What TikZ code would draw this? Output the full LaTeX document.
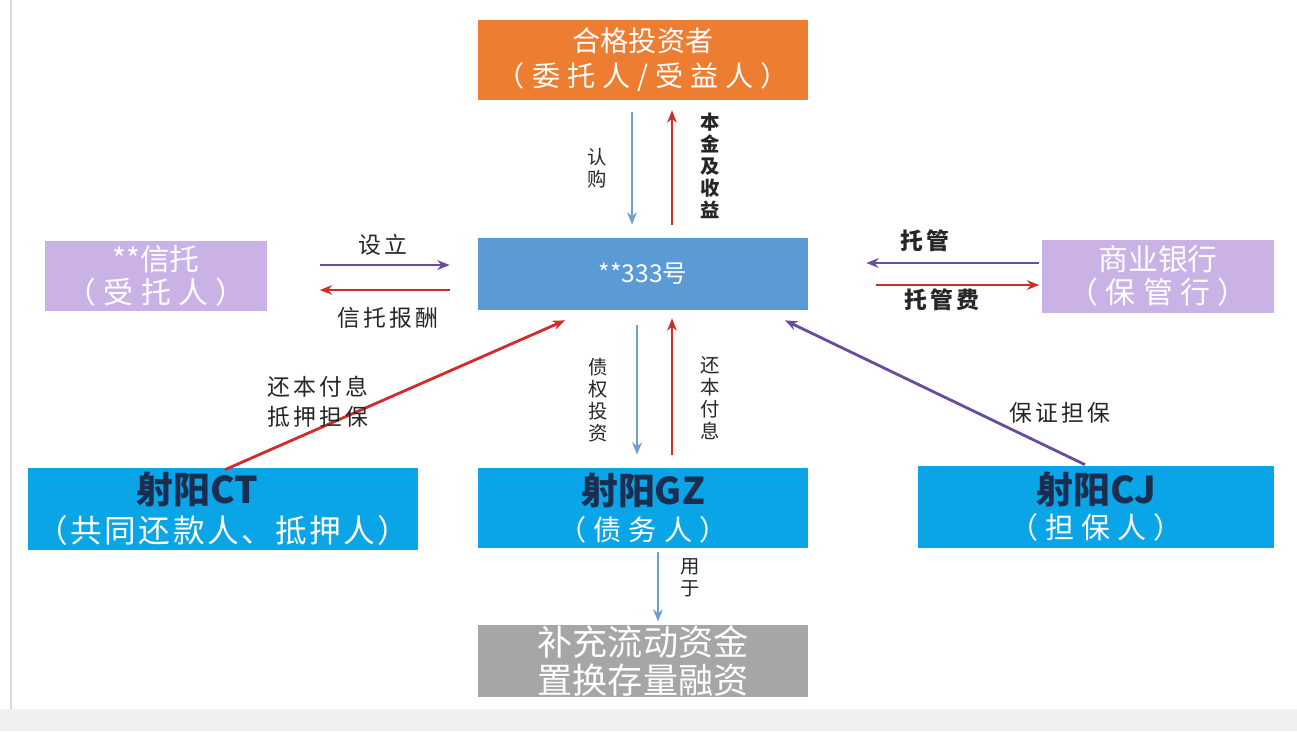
\documentclass[tikz,border=0pt]{standalone}
\usepackage{fontspec}
\setmainfont{Noto Sans CJK SC}
\newfontfamily\lblfont[LetterSpace=14]{Noto Sans CJK SC}
\newfontfamily\spacedfont[LetterSpace=25]{Noto Sans CJK SC}
\newfontfamily\widefont[LetterSpace=8]{Noto Sans CJK SC}
\usetikzlibrary{arrows.meta,calc}
\definecolor{invorange}{HTML}{ED7D31}
\definecolor{lavender}{HTML}{CAB2E6}
\definecolor{fundblue}{HTML}{5B9BD5}
\definecolor{partyblue}{HTML}{0AA5E6}
\definecolor{usegray}{HTML}{A6A6A6}
\definecolor{namenavy}{HTML}{1B2E4F}
\definecolor{arrblue}{HTML}{6E9FD0}
\definecolor{arrred}{HTML}{D22B2B}
\definecolor{arrpurple}{HTML}{6A4C9C}
\definecolor{bandgray}{HTML}{F0F0F0}
\newcommand\partyname[1]{{\fontsize{21}{22}\selectfont\bfseries\color{namenavy}#1}}
\tikzset{
  box/.style={rectangle, inner sep=0pt, text=white, align=center},
  vlbl/.style={align=center, text=black!85, font=\fontsize{11}{12.6}\selectfont},
  hlbl/.style={align=left, text=black!85, font=\lblfont\fontsize{13}{17}\selectfont},
  arr/.style={line width=1.6pt, -{Stealth[length=7pt,width=5.5pt]}},
  bluearr/.style={arr, arrblue, line width=1.3pt},
  redarr/.style={arr, arrred},
  purplearr/.style={arr, arrpurple}
}
\begin{document}
\begin{tikzpicture}[x=0.02cm, y=-0.02cm]
  \useasboundingbox (0,0) rectangle (1297,731);
  \fill[white] (0,0) rectangle (1297,731);
  \fill[bandgray] (0,709) rectangle (1297,731);
  \draw[black!15, line width=0.6pt] (11,0) -- (11,709);

  \node[box, fill=invorange, minimum width=6.6cm, minimum height=1.6cm,
    font=\fontsize{16}{20}\selectfont] (inv) at (643,60) {合格投资者\\{\spacedfont （委托人/受益人）}};
  \node[box, fill=fundblue, minimum width=6.6cm, minimum height=1.44cm,
    font=\fontsize{14}{16}\selectfont] (fund) at (643,274) {**333号};
  \node[box, fill=lavender, minimum width=4.46cm, minimum height=1.4cm,
    font=\fontsize{17}{19}\selectfont] (trust) at (156,276) {**信托\\{\spacedfont （受托人）}};
  \node[box, fill=lavender, minimum width=4.66cm, minimum height=1.46cm,
    font=\fontsize{17}{19}\selectfont] (bank) at (1158,276) {商业银行\\{\spacedfont （保管行）}};
  \node[box, fill=partyblue, minimum width=7.8cm, minimum height=1.64cm,
    font=\fontsize{18}{22}\selectfont] (ct) at (223,509) {\partyname{射阳CT}\hspace*{29pt}\\{\widefont （共同还款人、抵押人）}};
  \node[box, fill=partyblue, minimum width=6.6cm, minimum height=1.6cm,
    font=\fontsize{16}{20}\selectfont] (gz) at (643,508) {\partyname{射阳GZ}\\{\spacedfont （债务人）}};
  \node[box, fill=partyblue, minimum width=7.14cm, minimum height=1.64cm,
    font=\fontsize{16.5}{20}\selectfont] (cj) at (1096,507) {\partyname{射阳CJ}\\{\spacedfont （担保人）}};
  \node[box, fill=usegray, minimum width=6.6cm, minimum height=1.44cm,
    font=\fontsize{20}{22}\selectfont] (use) at (643,661) {补充流动资金\\置换存量融资};

  \draw[bluearr] ($(inv.south)+(-11,12)$) -- ($(fund.north)+(-11,-13)$);
  \draw[redarr] ($(fund.north)+(29,-13)$) -- ($(inv.south)+(29,10)$);
  \draw[purplearr] ($(trust.east)+(52,-11)$) -- ($(fund.west)+(-28,-9)$);
  \draw[redarr] ($(fund.west)+(-28,16)$) -- ($(trust.east)+(52,14)$);
  \draw[purplearr] ($(bank.west)+(-2,-13)$) -- ($(fund.east)+(58,-11)$);
  \draw[redarr] ($(fund.east)+(68,11)$) -- ($(bank.west)+(-2,9)$);
  \draw[redarr] ($(ct.north)+(2,2)$) -- ($(fund.south)+(-78,10)$);
  \draw[purplearr] ($(cj.north)+(-11,-1)$) -- ($(fund.south)+(142,10)$);
  \draw[bluearr] ($(fund.south)+(-6,15)$) -- ($(gz.north)+(-6,-13)$);
  \draw[redarr] ($(gz.north)+(29,-13)$) -- ($(fund.south)+(29,8)$);
  \draw[bluearr] ($(gz.south)+(15,4)$) -- ($(use.north)+(15,-3)$);

  \node[vlbl] (lbuy) at (597,168) {认\\购};
  \node[vlbl, font=\fontsize{11}{12.6}\selectfont\bfseries] (lret) at (710,166) {本\\金\\及\\收\\益};
  \node[vlbl] (lclaim) at (598,400) {债\\权\\投\\资};
  \node[vlbl] (lrepay) at (710,398) {还\\本\\付\\息};
  \node[vlbl] (luse) at (690,578) {用\\于};
  \node[hlbl] (lset) at (383,245) {设立};
  \node[hlbl] (lfee) at (388,318) {信托报酬};
  \node[hlbl, font=\lblfont\fontsize{13}{17}\selectfont\bfseries] (lcust) at (925,241) {托管};
  \node[hlbl, font=\lblfont\fontsize{13}{17}\selectfont\bfseries] (lcfee) at (942,300) {托管费};
  \node[hlbl] (lmort) at (318,402) {还本付息\\抵押担保};
  \node[hlbl] (lguar) at (1060,413) {保证担保};
\end{tikzpicture}
\end{document}
